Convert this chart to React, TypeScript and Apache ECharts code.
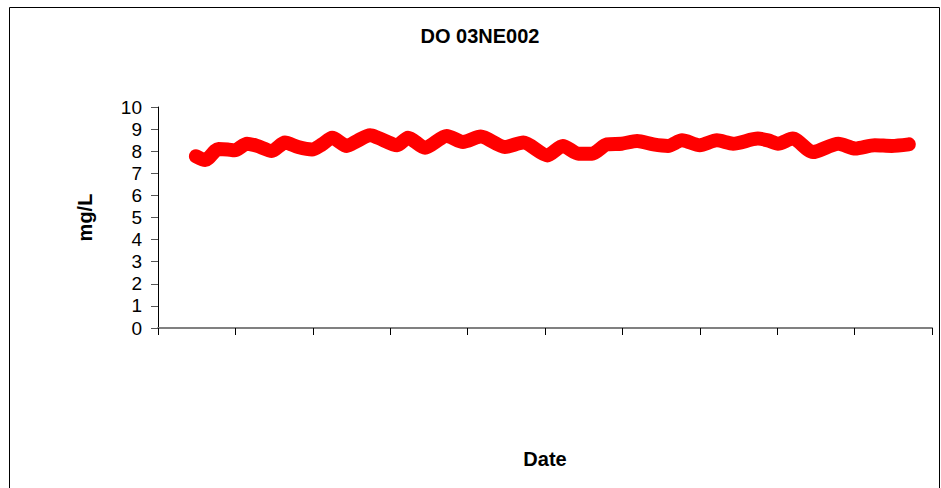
import React, { useEffect, useRef } from "react";
import * as echarts from "echarts";

const TITLE = "DO 03NE002";
const Y_NAME = "mg/L";
const X_NAME = "Date";
const Y_TICKS = [0, 1, 2, 3, 4, 5, 6, 7, 8, 9, 10];

// position along the date axis (axis units, 10 tick intervals) and DO values in mg/L
const datePos = [
  0.49, 0.61, 0.78, 0.9, 0.99, 1.15, 1.28, 1.47, 1.64, 1.81, 1.99, 2.12, 2.25, 2.44,
  2.57, 2.74, 2.84, 3.09, 3.23, 3.45, 3.73, 3.94, 4.17, 4.48, 4.72, 5.03, 5.23, 5.43,
  5.61, 5.8, 5.99, 6.19, 6.4, 6.59, 6.77, 7.0, 7.22, 7.43, 7.75, 7.88, 8.01, 8.2,
  8.46, 8.79, 9.01, 9.26, 9.48, 9.7,
];
const doValues = [
  7.77, 7.6, 8.1, 8.08, 8.04, 8.34, 8.24, 8.01, 8.39, 8.19, 8.08, 8.31, 8.61, 8.24,
  8.46, 8.72, 8.61, 8.27, 8.61, 8.16, 8.69, 8.42, 8.66, 8.19, 8.39, 7.81, 8.24, 7.89,
  7.89, 8.31, 8.34, 8.46, 8.31, 8.24, 8.49, 8.27, 8.49, 8.34, 8.57, 8.49, 8.34, 8.57,
  7.96, 8.34, 8.12, 8.27, 8.24, 8.31,
];

const FONT = "'Liberation Sans', Arial, Helvetica, sans-serif";

export default function App() {
  const ref = useRef<HTMLDivElement>(null);
  useEffect(() => {
    document.body.style.margin = "0";
    const chart = echarts.init(ref.current!, null, { renderer: "svg" });
    const seriesData = datePos.map((x, i) => [x, doValues[i]]);
    chart.setOption({
      animation: false,
      backgroundColor: "#ffffff",
      textStyle: { fontFamily: FONT },
      title: {
        text: TITLE,
        left: 480,
        top: 26,
        textAlign: "center",
        padding: 0,
        textStyle: { fontFamily: FONT, fontSize: 20, fontWeight: "bold", color: "#000" },
      },
      graphic: [
        {
          type: "rect",
          shape: { x: 9.5, y: 7.5, width: 930, height: 520 },
          style: { fill: "none", stroke: "#000", lineWidth: 1 },
          silent: true,
          z: 0,
        },
      ],
      grid: { left: 158, right: 9, top: 107, bottom: 160 },
      xAxis: {
        type: "value",
        min: 0,
        max: 10,
        interval: 1,
        name: X_NAME,
        nameLocation: "middle",
        nameGap: 121,
        nameTextStyle: { fontFamily: FONT, fontSize: 20, fontWeight: "bold", color: "#000" },
        axisLine: { show: true, lineStyle: { color: "#808080", width: 2 } },
        axisTick: { show: true, length: 7, lineStyle: { color: "#000", width: 1 } },
        axisLabel: { show: false },
        splitLine: { show: false },
      },
      yAxis: {
        type: "value",
        min: Y_TICKS[0],
        max: Y_TICKS[Y_TICKS.length - 1],
        interval: 1,
        name: Y_NAME,
        nameLocation: "middle",
        nameRotate: 90,
        nameGap: 63,
        nameTextStyle: { fontFamily: FONT, fontSize: 20, fontWeight: "bold", color: "#000" },
        axisLine: { show: true, lineStyle: { color: "#000", width: 1 } },
        axisTick: { show: true, length: 7, lineStyle: { color: "#555", width: 1 } },
        axisLabel: { show: true, margin: 16, fontFamily: FONT, fontSize: 19, color: "#000" },
        splitLine: { show: false },
      },
      series: [
        {
          type: "line",
          data: seriesData,
          showSymbol: false,
          symbol: "diamond",
          smooth: 0.25,
          lineStyle: { color: "#ff0000", width: 14, cap: "round", join: "round" },
          itemStyle: { color: "#ff0000" },
          z: 3,
        },
      ],
    });
    return () => chart.dispose();
  }, []);
  return <div ref={ref} style={{ width: 941, height: 488 }} />;
}
